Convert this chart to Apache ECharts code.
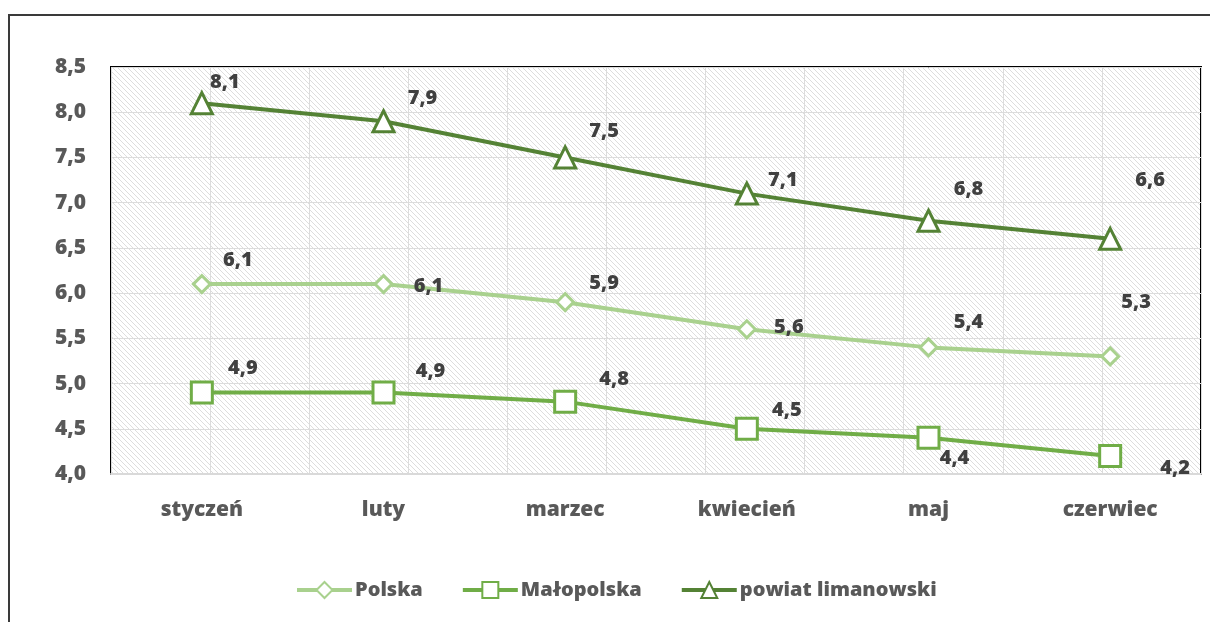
<!doctype html>
<html>
<head>
<meta charset="UTF-8">
<title>Stopa bezrobocia</title>
<script src="https://cdn.jsdelivr.net/npm/echarts@6/dist/echarts.min.js"></script>
<style>
  html, body { margin: 0; padding: 0; background: #fff; }
  #chart { width: 1210px; height: 622px; }
</style>
</head>
<body>
<div id="chart"></div>
<script>
// dane
var months = ['styczeń', 'luty', 'marzec', 'kwiecień', 'maj', 'czerwiec'];
var polska = [6.1, 6.1, 5.9, 5.6, 5.4, 5.3];
var malopolska = [4.9, 4.9, 4.8, 4.5, 4.4, 4.2];
var powiat = [8.1, 7.9, 7.5, 7.1, 6.8, 6.6];

// przesunięcia etykiet (jak w oryginale z Excela)
var offPolska = [[36, -24], [45, 2], [39, -19], [42, -2], [40, -25], [26, -54]];
var offMalo = [[41, -24], [47, -21], [49, -22], [40, -18], [26, 20], [65, 12]];
var offPowiat = [[23, -21], [39, -23], [39, -26], [36, -13], [40, -31], [40, -59]];

// tło w ukośne kreski
var tile = document.createElement('canvas');
tile.width = 5; tile.height = 5;
var c = tile.getContext('2d');
c.fillStyle = '#ffffff';
c.fillRect(0, 0, 5, 5);
c.strokeStyle = '#dddddd';
c.lineWidth = 1;
c.beginPath();
c.moveTo(-1, -1); c.lineTo(6, 6);
c.moveTo(-1, 4); c.lineTo(1, 6);
c.moveTo(4, -1); c.lineTo(6, 1);
c.stroke();

var font = '"Open Sans", sans-serif';
var txt = '#595959';

function withOffsets(vals, offs) {
  return vals.map(function (v, i) {
    return { value: v, label: { offset: offs[i] } };
  });
}

function lineSeries(name, vals, offs, color, symbol, size) {
  return {
    name: name,
    type: 'line',
    data: withOffsets(vals, offs),
    symbol: symbol,
    symbolSize: size,
    lineStyle: { color: color, width: 4 },
    itemStyle: { color: '#ffffff', borderColor: color, borderWidth: 3 },
    label: {
      show: true,
      position: 'inside',
      fontFamily: font,
      fontWeight: 800,
      fontSize: 20,
      color: '#404040',
      formatter: function (p) { return p.value.toFixed(1).replace('.', ','); }
    },
    z: 3
  };
}

var chart = echarts.init(document.getElementById('chart'));
var option = {
  animation: false,
  textStyle: { fontFamily: font },
  graphic: [{
    type: 'rect',
    shape: { x: 9, y: 15, width: 1220, height: 630 },
    style: { fill: null, stroke: '#3a3a3a', lineWidth: 2 },
    silent: true
  }],
  grid: {
    left: 111, right: 9, top: 67, bottom: 148,
    show: true,
    backgroundColor: { image: tile, repeat: 'repeat' },
    borderColor: '#000000',
    borderWidth: 2
  },
  legend: {
    bottom: 17,
    left: 290,
    itemWidth: 55,
    itemHeight: 20,
    itemGap: 38,
    lineStyle: { width: 4 },
    textStyle: { fontFamily: font, fontWeight: 800, fontSize: 20, color: txt, padding: [0, 0, 0, -2] },
    data: ['Polska', 'Małopolska', 'powiat limanowski']
  },
  xAxis: [{
    type: 'category',
    data: months,
    boundaryGap: true,
    axisLine: { lineStyle: { color: '#d9d9d9', width: 2 } },
    axisTick: { show: false },
    axisLabel: { margin: 26, fontFamily: font, fontWeight: 800, fontSize: 21, color: txt },
    splitLine: { show: false }
  }, {
    // pomocnicza oś dla pionowych linii siatki co pół kategorii
    type: 'category',
    data: ['', '', '', '', '', '', '', '', '', '', '', ''],
    position: 'bottom',
    boundaryGap: false,
    show: true,
    axisLine: { show: false },
    axisTick: { show: false },
    axisLabel: { show: false },
    splitLine: { show: true, lineStyle: { color: '#dcdcdc', width: 1 } }
  }],
  yAxis: {
    type: 'value',
    min: 4,
    max: 8.5,
    interval: 0.5,
    axisLine: { show: false },
    axisTick: { show: false },
    axisLabel: {
      margin: 25,
      fontFamily: font, fontWeight: 800, fontSize: 21, color: txt,
      formatter: function (v) { return v.toFixed(1).replace('.', ','); }
    },
    splitLine: { lineStyle: { color: '#dcdcdc', width: 1 } }
  },
  series: [
    lineSeries('Polska', polska, offPolska, '#a9d18e', 'diamond', 17),
    lineSeries('Małopolska', malopolska, offMalo, '#70ad47', 'rect', 21),
    lineSeries('powiat limanowski', powiat, offPowiat, '#548235', 'triangle', 21)
  ]
};
chart.setOption(option);
</script>
</body>
</html>
